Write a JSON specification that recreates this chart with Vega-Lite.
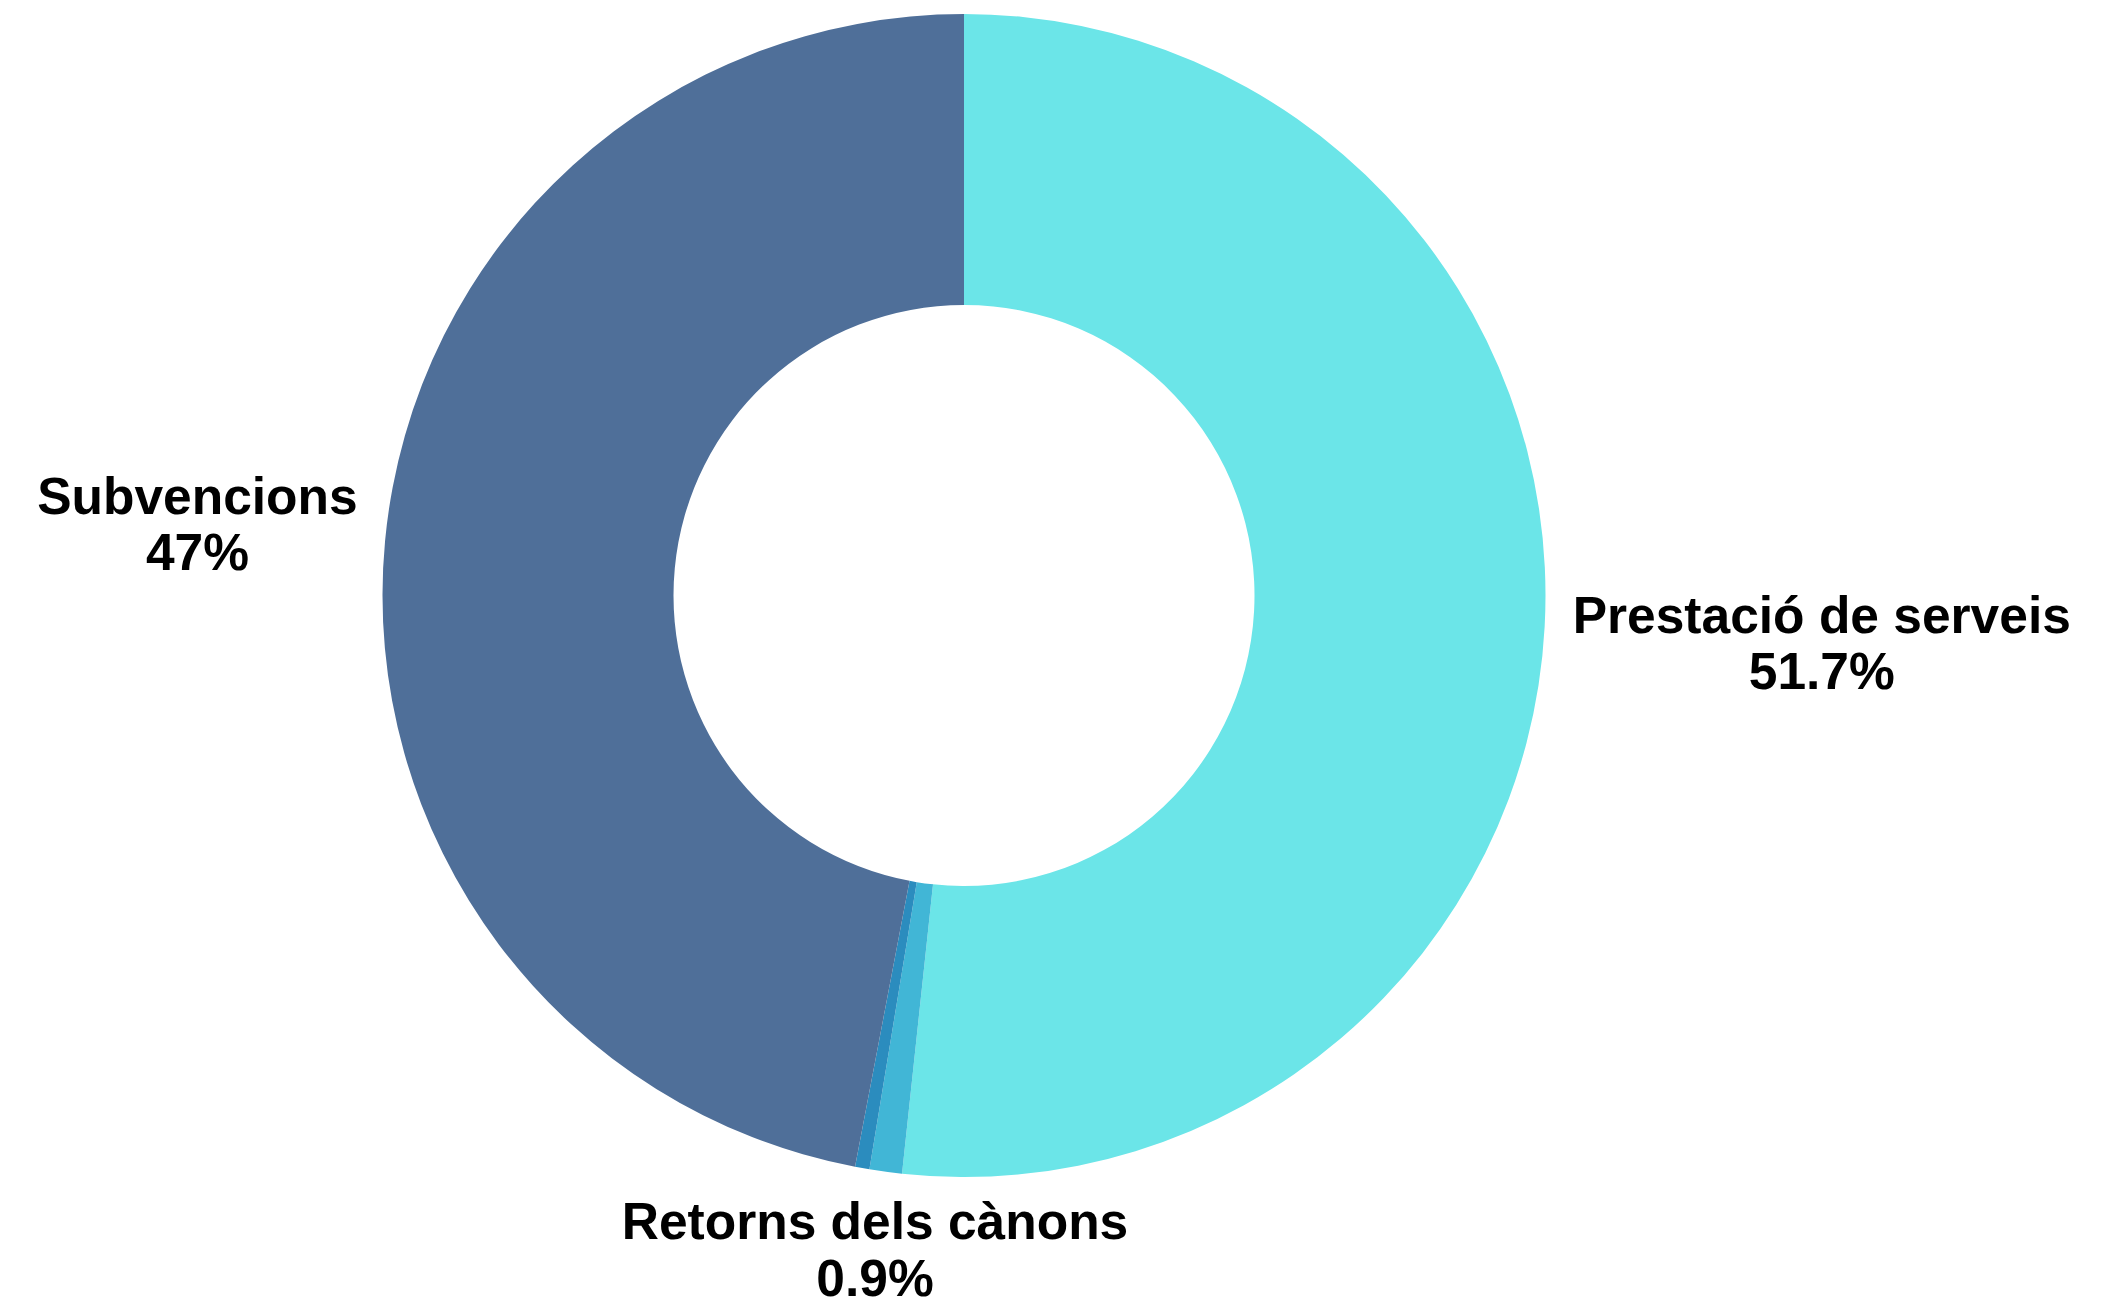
{
  "$schema": "https://vega.github.io/schema/vega-lite/v6.json",
  "width": 1928,
  "height": 1191,
  "autosize": {"type": "none"},
  "padding": {"left": 0, "top": 0, "right": 174, "bottom": 111},
  "background": "white",
  "view": {"stroke": null},
  "data": {
    "values": [
      {"cat": "Prestació de serveis", "value": 0.517, "ord": 1},
      {"cat": "Retorns dels cànons", "value": 0.009, "ord": 2},
      {"cat": "Altres", "value": 0.004, "ord": 3},
      {"cat": "Subvencions", "value": 0.47, "ord": 4}
    ]
  },
  "encoding": {
    "theta": {"field": "value", "type": "quantitative", "stack": true},
    "order": {"field": "ord", "type": "quantitative"},
    "detail": {"field": "cat", "type": "nominal"}
  },
  "layer": [
    {
      "mark": {"type": "arc", "outerRadius": 581.5, "innerRadius": 290.5},
      "encoding": {
        "color": {
          "field": "cat",
          "type": "nominal",
          "scale": {
            "domain": ["Prestació de serveis", "Retorns dels cànons", "Altres", "Subvencions"],
            "range": ["#6be5e8", "#41b6d6", "#2b8cbe", "#4f6f99"]
          },
          "legend": null
        }
      }
    },
    {
      "mark": {"type": "text", "radius": 859, "dy": -8, "align": "center", "baseline": "alphabetic", "font": "Liberation Sans", "fontWeight": "bold", "fontSize": 51.5, "color": "#000000"},
      "encoding": {"text": {"condition": {"test": "datum.cat === 'Prestació de serveis'", "field": "cat"}, "value": ""}}
    },
    {
      "mark": {"type": "text", "radius": 859, "dy": 48, "align": "center", "baseline": "alphabetic", "font": "Liberation Sans", "fontWeight": "bold", "fontSize": 51.5, "color": "#000000"},
      "encoding": {"text": {"condition": {"test": "datum.cat === 'Prestació de serveis'", "field": "value", "type": "quantitative", "format": ".1~%"}, "value": ""}}
    },
    {
      "mark": {"type": "text", "radius": 770, "dy": -9, "align": "center", "baseline": "alphabetic", "font": "Liberation Sans", "fontWeight": "bold", "fontSize": 51.5, "color": "#000000"},
      "encoding": {"text": {"condition": {"test": "datum.cat === 'Subvencions'", "field": "cat"}, "value": ""}}
    },
    {
      "mark": {"type": "text", "radius": 770, "dy": 47, "align": "center", "baseline": "alphabetic", "font": "Liberation Sans", "fontWeight": "bold", "fontSize": 51.5, "color": "#000000"},
      "encoding": {"text": {"condition": {"test": "datum.cat === 'Subvencions'", "field": "value", "type": "quantitative", "format": ".1~%"}, "value": ""}}
    },
    {
      "mark": {"type": "text", "radius": 661, "dy": -11.5, "align": "center", "baseline": "alphabetic", "font": "Liberation Sans", "fontWeight": "bold", "fontSize": 51.5, "color": "#000000"},
      "encoding": {"text": {"condition": {"test": "datum.cat === 'Retorns dels cànons'", "field": "cat"}, "value": ""}}
    },
    {
      "mark": {"type": "text", "radius": 661, "dy": 45.5, "align": "center", "baseline": "alphabetic", "font": "Liberation Sans", "fontWeight": "bold", "fontSize": 51.5, "color": "#000000"},
      "encoding": {"text": {"condition": {"test": "datum.cat === 'Retorns dels cànons'", "field": "value", "type": "quantitative", "format": ".1~%"}, "value": ""}}
    }
  ]
}
